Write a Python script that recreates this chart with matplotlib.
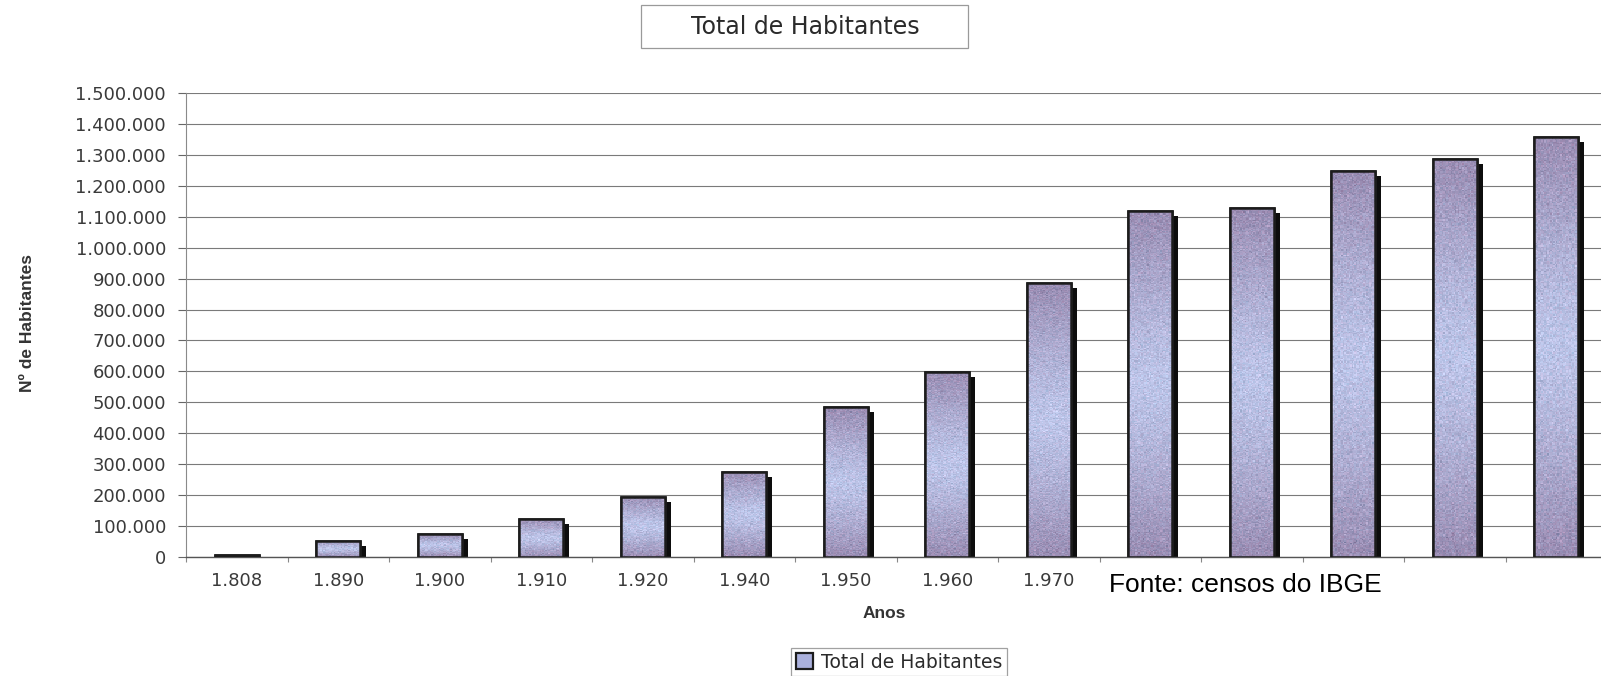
import numpy as np
import matplotlib
matplotlib.use("Agg")
import matplotlib.pyplot as plt
from matplotlib.patches import Rectangle, Patch
from matplotlib.ticker import MultipleLocator, FuncFormatter, FixedLocator
from matplotlib.transforms import offset_copy

# Census years (the last five are left unlabelled on the axis) and population
categories = ["1.808", "1.890", "1.900", "1.910", "1.920", "1.940", "1.950",
              "1.960", "1.970", "", "", "", "", ""]
populacao = [6000, 52000, 74000, 122000, 195000, 275000, 484000, 598000,
             885000, 1120000, 1128000, 1247000, 1288000, 1358000]
serie_nome = "Total de Habitantes"
titulo = "Total de Habitantes"
eixo_x = "Anos"
eixo_y = "Nº de Habitantes"
fonte = "Fonte: censos do IBGE"

W, H = 1601, 676
fig = plt.figure(figsize=(W / 100, H / 100), dpi=100)
fig.patch.set_facecolor("white")

# axes placed in pixel terms
ax_left, ax_bottom_px, ax_top_px, slot = 186, 557, 93, 101.5
ax = fig.add_axes([ax_left / W, 1 - ax_bottom_px / H,
                   slot * len(categories) / W, (ax_bottom_px - ax_top_px) / H])

x = np.arange(len(categories))
bar_w = 0.433

# drop shadows behind each bar
shadow_tr = offset_copy(ax.transData, fig=fig, x=6, y=-5, units="dots")
ax.bar(x, populacao, width=bar_w, color="#0d0d0d", transform=shadow_tr, zorder=2)

# bars
bars = ax.bar(x, populacao, width=bar_w, facecolor="#b4bce3",
              edgecolor="#1c1c1c", linewidth=1.8, zorder=3)

# vertical lavender/blue gradient with a fine grain inside every bar
rng = np.random.default_rng(7)
dark = np.array([0.60, 0.55, 0.70])
light = np.array([0.74, 0.77, 0.91])
for b in bars:
    x0, w, h = b.get_x(), b.get_width(), b.get_height()
    n = 300
    t = np.linspace(0, 1, n)[:, None]
    k = np.abs(2 * t - 1) ** 1.3
    img = light[None, None, :] * (1 - k[..., None]) + dark[None, None, :] * k[..., None]
    img = np.repeat(img, 30, axis=1)
    grain = rng.normal(0, 0.035, img.shape[:2])
    img = img + grain[..., None]
    img[..., 0] += rng.normal(0, 0.02, img.shape[:2])
    img = np.clip(img, 0, 1)
    im = ax.imshow(img, extent=(x0, x0 + w, 0, h), origin="lower",
                   aspect="auto", interpolation="nearest", zorder=3.5)
    im.set_clip_path(b)
    # outline on top of the gradient
    ax.add_patch(Rectangle((x0, 0), w, h, facecolor="none",
                           edgecolor="#1c1c1c", linewidth=1.8, zorder=4))

ax.set_xlim(-0.5, len(categories) - 0.5)
ax.set_ylim(0, 1500000)

# y axis
ax.yaxis.set_major_locator(MultipleLocator(100000))
ax.yaxis.set_major_formatter(FuncFormatter(lambda v, p: f"{int(round(v)):,}".replace(",", ".")))
ax.tick_params(axis="y", direction="out", length=5.8, width=0.8, color="#666666",
               pad=8.6, labelsize=13, labelcolor="#3a3a3a")
ax.grid(axis="y", color="#7a7a7a", linewidth=0.8, zorder=0)
ax.set_axisbelow(True)

# x axis: labels under bars, small ticks between categories
ax.set_xticks(x)
ax.set_xticklabels(categories)
ax.xaxis.set_minor_locator(FixedLocator(np.arange(-0.5, len(categories), 1.0)))
ax.tick_params(axis="x", which="major", length=0, pad=11, labelsize=13,
               labelcolor="#3a3a3a")
ax.tick_params(axis="x", which="minor", direction="out", length=3.6, width=0.8,
               color="#888888")

for s in ("top", "right"):
    ax.spines[s].set_visible(False)
ax.spines["left"].set_color("#8a8a8a")
ax.spines["left"].set_linewidth(0.8)
ax.spines["bottom"].set_color("#555555")
ax.spines["bottom"].set_linewidth(1.0)

# axis titles
fig.text(884 / W, 1 - 614 / H, eixo_x, ha="center", va="center",
         fontsize=12.5, fontweight="bold", color="#333333",
         family=["Liberation Sans", "DejaVu Sans"])
fig.text(27 / W, 1 - 323 / H, eixo_y, ha="center", va="center", rotation=90,
         fontsize=12.5, fontweight="bold", color="#333333",
         family=["Liberation Sans", "DejaVu Sans"])

# chart title in a framed box
fig.patches.append(Rectangle((641 / W, 1 - 48 / H), 327 / W, 43 / H,
                             transform=fig.transFigure, facecolor="white",
                             edgecolor="#9a9a9a", linewidth=0.9))
fig.text(805 / W, 1 - 27 / H, titulo, ha="center", va="center",
         fontsize=17, color="#2a2a2a")

# source note
fig.text(1109 / W, 1 - 585 / H, fonte, ha="left", va="center",
         fontsize=19, color="black", family="Liberation Sans")

# legend
handle = Patch(facecolor="#aab0dc", edgecolor="#1c1c1c", linewidth=1.6)
leg = fig.legend([handle], [serie_nome], loc="center",
                 bbox_to_anchor=(899 / W, 1 - 662 / H), frameon=True,
                 fancybox=False, fontsize=13.5, handlelength=0.9,
                 handleheight=0.9, handletextpad=0.4, borderpad=0.25,
                 borderaxespad=0)
leg.get_frame().set_edgecolor("#8a8a8a")
leg.get_frame().set_linewidth(0.9)
for t in leg.get_texts():
    t.set_color("#2a2a2a")

fig.savefig("out.png", dpi=100, facecolor="white")
